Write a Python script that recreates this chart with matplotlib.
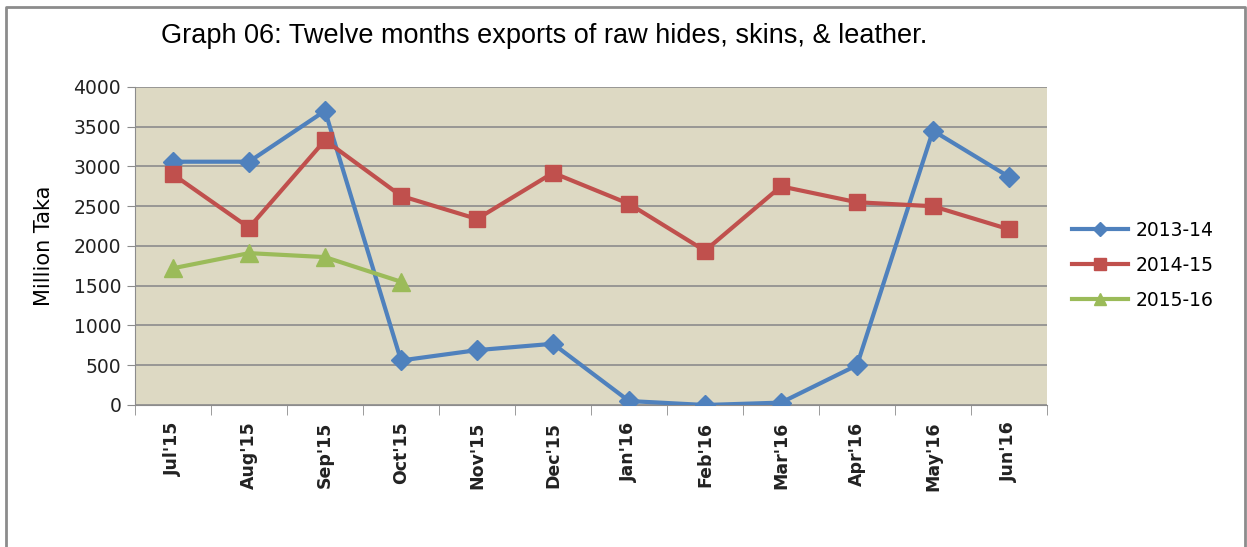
import numpy as np
import matplotlib
matplotlib.use("Agg")
import matplotlib.pyplot as plt
from matplotlib.lines import Line2D

months = ["Jul'15", "Aug'15", "Sep'15", "Oct'15", "Nov'15", "Dec'15",
          "Jan'16", "Feb'16", "Mar'16", "Apr'16", "May'16", "Jun'16"]
fy1314 = [3060, 3060, 3700, 560, 690, 770, 50, 0, 30, 500, 3450, 2870]
fy1415 = [2900, 2230, 3330, 2630, 2340, 2920, 2530, 1940, 2750, 2550, 2500, 2210]
fy1516 = [1720, 1910, 1860, 1550]
yticks = [0, 500, 1000, 1500, 2000, 2500, 3000, 3500, 4000]

fig = plt.figure(figsize=(12.47, 5.47), dpi=100)
ax = fig.add_axes([0.1083, 0.2596, 0.7313, 0.5814])
ax.set_facecolor("#DDD9C3")

x = np.arange(len(months))
ax.plot(x, fy1314, color="#4F81BD", lw=3, marker="D", ms=10, label="2013-14", zorder=3)
ax.plot(x, fy1415, color="#C0504D", lw=3, marker="s", ms=12, label="2014-15", zorder=3)
ax.plot(x[:len(fy1516)], fy1516, color="#9BBB59", lw=3, marker="^", ms=13, label="2015-16", zorder=3)

ax.set_xlim(-0.5, len(months) - 0.5)
ax.set_ylim(0, 4000)
ax.set_yticks(yticks)
ax.set_yticklabels([str(v) for v in yticks], fontsize=13.5, color="#222222")
ax.yaxis.grid(True, color="#8C8C8C", lw=1.2)
ax.set_axisbelow(True)
ax.tick_params(axis="y", length=6, color="#8C8C8C", pad=4)

ax.set_xticks(x)
ax.set_xticklabels(months, rotation=90, fontsize=12.5, fontweight="bold", color="#222222")
ax.tick_params(axis="x", which="major", length=0, pad=12)
ax.set_xticks(np.arange(-0.5, len(months)), minor=True)
ax.tick_params(axis="x", which="minor", length=7, color="#8C8C8C")

for s in ["top", "right"]:
    ax.spines[s].set_visible(False)
for s in ["left", "bottom"]:
    ax.spines[s].set_color("#8C8C8C")

ax.set_ylabel("Million Taka", fontsize=15, labelpad=14)

fig.text(0.436, 0.934, "Graph 06: Twelve months exports of raw hides, skins, & leather.",
         ha="center", va="center", fontsize=19.5, family="Liberation Sans")

handles = [Line2D([0], [0], color="#4F81BD", lw=3, marker="D", ms=7),
           Line2D([0], [0], color="#C0504D", lw=3, marker="s", ms=9),
           Line2D([0], [0], color="#9BBB59", lw=3, marker="^", ms=9)]
fig.legend(handles, ["2013-14", "2014-15", "2015-16"], loc="center left",
           bbox_to_anchor=(0.846, 0.515), frameon=False, fontsize=13.5,
           handlelength=3.0, labelspacing=0.85, handletextpad=0.4)

# outer chart border (left, top, right)
fig.add_artist(Line2D([0.005, 0.005, 0.9985, 0.9985], [0.0, 0.987, 0.987, 0.0],
                      transform=fig.transFigure, color="#8C8C8C", lw=2))

fig.savefig("out.png", dpi=100)
